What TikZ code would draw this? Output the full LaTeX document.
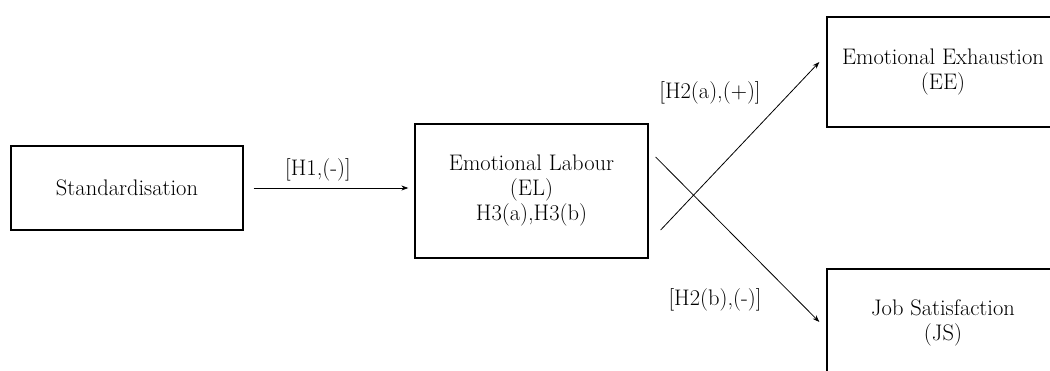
\documentclass[tikz,border=0pt]{standalone}
\usepackage{tikz}
\usetikzlibrary{arrows.meta}

\begin{document}
\begin{tikzpicture}[x=1pt,y=-1pt,>={Stealth[length=7pt,width=5pt]},
  rec node/.style={rectangle,draw,line width=1.3pt,inner sep=0pt,align=center,
    font=\fontsize{22.5}{25}\selectfont},
  hyp node/.style={font=\fontsize{22.5}{25}\selectfont,inner sep=0pt},
  link/.style={->,line width=0.8pt}]

  \useasboundingbox (0,0) rectangle (1050,370);
  \clip (0,0) rectangle (1050,370);

  \node[rec node] (1) [minimum width=232pt,minimum height=84pt] at (127,188) {Standardisation};
  \node[rec node] (2) [minimum width=233pt,minimum height=134pt] at (531.5,191) {Emotional Labour\\(EL)\\H3(a),H3(b)};
  \node[rec node] (3) [minimum width=232pt,minimum height=110pt] at (943,72) {Emotional Exhaustion\\(EE)};
  \node[rec node] (4) [minimum width=232pt,minimum height=108pt] at (943,323) {Job Satisfaction\\(JS)};

  \node[hyp node] (5) at (318,170) {[H1,(-)]};
  \node[hyp node] (6) at (710,93) {[H2(a),(+)]};
  \node[hyp node] (7) at (715,300) {[H2(b),(-)]};

  \path[link,shorten <=10pt,shorten >=6pt]
    (1.east) edge (1.east -| 2.west);
  \draw[link] ([shift={(12,39)}]2.east) -- ([shift={(-7,-10)}]3.west);
  \draw[link] ([shift={(7,-34)}]2.east) -- ([shift={(-7,-1)}]4.west);
\end{tikzpicture}
\end{document}
